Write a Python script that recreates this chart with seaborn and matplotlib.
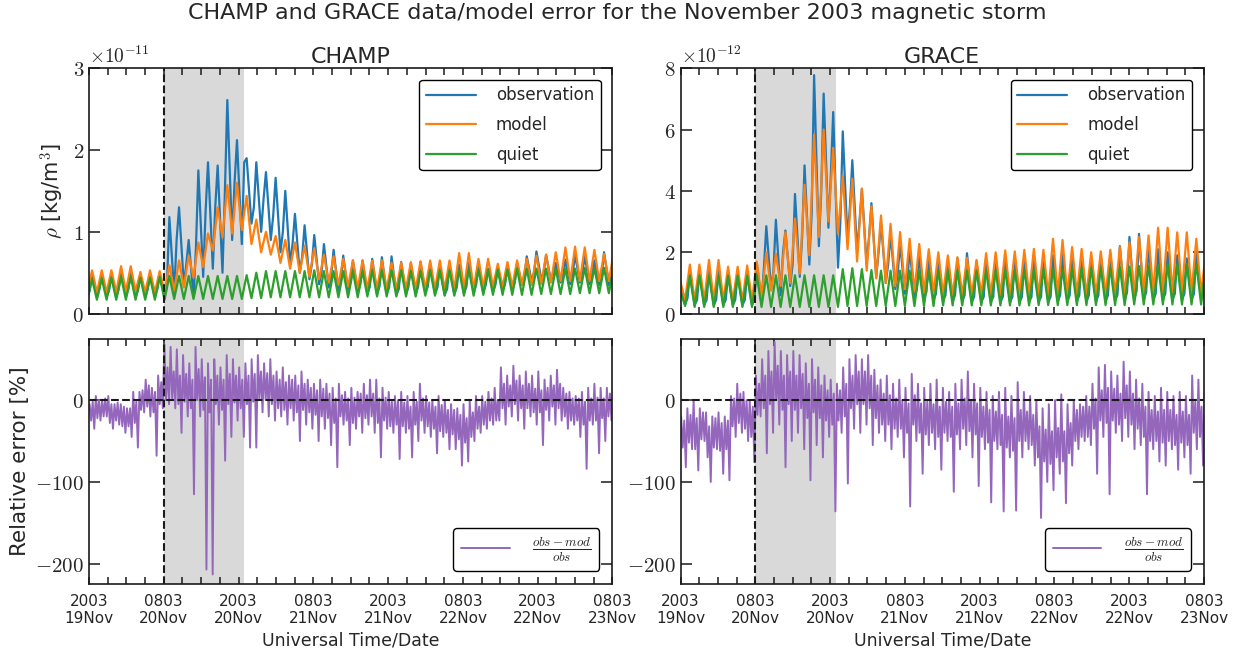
import numpy as np
import pandas as pd
import matplotlib
matplotlib.use('Agg')
import matplotlib.pyplot as plt
import matplotlib.dates as mdates
from matplotlib.ticker import FuncFormatter
import seaborn as sns

START = pd.Timestamp('2003-11-19 20:03')
END = pd.Timestamp('2003-11-23 08:03')
ONSET = pd.Timestamp('2003-11-20 08:03')
MAIN_END = pd.Timestamp('2003-11-20 21:00')

# ---- CHAMP density [1e-11 kg/m^3]: orbit peak, trough, and rebound before next peak ----
champ_obs_pk = [0.45, 0.48, 0.47, 0.47, 0.50, 0.50, 0.47, 0.48, 0.48,
                1.18, 1.30, 0.90, 1.75, 1.85, 1.81, 2.61, 2.12,
                1.90, 1.85, 1.73, 1.66, 1.50, 1.22, 1.08, 0.96, 0.85, 0.78,
                0.71, 0.65, 0.65, 0.67, 0.69, 0.70, 0.63, 0.61, 0.63, 0.60,
                0.58, 0.58, 0.60, 0.62, 0.58, 0.55, 0.55, 0.58, 0.62, 0.70,
                0.76, 0.72, 0.62, 0.66, 0.72, 0.70, 0.65, 0.75, 0.75]
champ_obs_tr = [0.20, 0.20, 0.21, 0.20, 0.22, 0.21, 0.20, 0.21, 0.20,
                0.25, 0.35, 0.20, 0.45, 0.55, 0.50, 0.90, 0.85,
                1.10, 1.00, 0.90, 0.75, 0.60, 0.50, 0.42, 0.36, 0.32, 0.28,
                0.26, 0.25, 0.24, 0.24, 0.24, 0.23, 0.24, 0.24, 0.25, 0.24,
                0.23, 0.24, 0.25, 0.25, 0.26, 0.27, 0.28, 0.30, 0.35, 0.40,
                0.42, 0.40, 0.38, 0.36, 0.38, 0.36, 0.35, 0.35, 0.35]
champ_obs_mid = [0.28, 0.30, 0.28, 0.30, 0.30, 0.28, 0.30, 0.30, 0.35,
                 0.90, 0.60, 0.80, 1.25, 1.30, 1.50, 1.60, 1.85,
                 1.30, 1.40, 1.20, 1.00, 0.85, 0.70, 0.60, 0.50, 0.45, 0.40,
                 0.38, 0.35, 0.33, 0.33, 0.32, 0.30, 0.33, 0.33, 0.33, 0.32,
                 0.30, 0.32, 0.33, 0.35, 0.35, 0.35, 0.36, 0.38, 0.45, 0.50,
                 0.50, 0.48, 0.46, 0.48, 0.50, 0.48, 0.46, 0.45, 0.45]
champ_mod_pk = [0.50, 0.53, 0.53, 0.53, 0.58, 0.58, 0.51, 0.53, 0.52,
                0.59, 0.65, 0.71, 0.87, 0.98, 1.30, 1.57, 1.60,
                1.44, 1.15, 1.00, 0.95, 0.90, 0.87, 0.83, 0.80, 0.72, 0.70,
                0.67, 0.65, 0.65, 0.65, 0.65, 0.62, 0.62, 0.63, 0.64, 0.65,
                0.65, 0.65, 0.74, 0.74, 0.67, 0.67, 0.61, 0.63, 0.65, 0.67,
                0.71, 0.72, 0.75, 0.81, 0.82, 0.81, 0.78, 0.73, 0.75]
champ_mod_tr = [0.26, 0.26, 0.26, 0.26, 0.27, 0.27, 0.26, 0.26, 0.27,
                0.28, 0.32, 0.44, 0.57, 0.77, 0.93, 0.98, 1.02,
                0.85, 0.75, 0.72, 0.62, 0.55, 0.50, 0.45, 0.42, 0.38, 0.35,
                0.33, 0.31, 0.30, 0.30, 0.30, 0.30, 0.30, 0.30, 0.30, 0.30,
                0.30, 0.30, 0.30, 0.30, 0.32, 0.33, 0.33, 0.33, 0.35, 0.35,
                0.36, 0.38, 0.40, 0.40, 0.40, 0.40, 0.40, 0.40, 0.40]
champ_qui_pk = [0.42, 0.42, 0.43, 0.44, 0.45, 0.45, 0.44, 0.44, 0.45,
                0.46, 0.46, 0.46, 0.46, 0.46, 0.46, 0.46, 0.46,
                0.47, 0.50, 0.52, 0.52, 0.52, 0.52, 0.52, 0.53, 0.52, 0.52,
                0.52, 0.52, 0.52, 0.53, 0.53, 0.53, 0.53, 0.52, 0.52, 0.53,
                0.53, 0.53, 0.53, 0.54, 0.54, 0.54, 0.54, 0.54, 0.55, 0.55,
                0.55, 0.55, 0.55, 0.55, 0.55, 0.56, 0.56, 0.56, 0.56]
champ_qui_tr = [0.17, 0.17, 0.17, 0.17, 0.17, 0.17, 0.17, 0.17, 0.17,
                0.18, 0.18, 0.18, 0.18, 0.18, 0.18, 0.18, 0.18,
                0.19, 0.19, 0.20, 0.20, 0.20, 0.20, 0.20, 0.20, 0.20, 0.20,
                0.20, 0.20, 0.21, 0.21, 0.21, 0.21, 0.21, 0.21, 0.22, 0.22,
                0.22, 0.22, 0.22, 0.22, 0.23, 0.23, 0.23, 0.23, 0.23, 0.23,
                0.24, 0.24, 0.24, 0.24, 0.25, 0.25, 0.25, 0.25, 0.25]

# ---- GRACE density [1e-12 kg/m^3] ----
grace_obs_pk = [0.80, 1.30, 1.35, 1.40, 1.40, 1.30, 1.30, 1.30,
                1.65, 2.85, 3.06, 2.71, 3.90, 4.83, 7.77, 7.17, 6.57,
                5.94, 5.00, 4.07, 3.60, 3.00, 2.60, 2.30, 2.10, 1.90, 1.80,
                1.75, 1.70, 1.80, 1.97, 1.70, 1.80, 1.85, 1.90, 1.80, 1.85,
                1.90, 1.90, 1.90, 1.95, 2.00, 1.90, 1.85, 1.90, 1.95, 2.20,
                2.50, 2.60, 2.20, 2.10, 2.00, 1.90, 1.80, 2.00, 1.60]
grace_obs_tr = [0.30, 0.28, 0.28, 0.28, 0.28, 0.28, 0.28, 0.28,
                0.40, 0.80, 0.60, 0.90, 1.20, 1.60, 2.20, 2.80, 1.50,
                2.40, 2.00, 1.60, 1.20, 1.00, 0.80, 0.65, 0.55, 0.50, 0.45,
                0.42, 0.40, 0.40, 0.38, 0.38, 0.38, 0.38, 0.38, 0.38, 0.38,
                0.38, 0.38, 0.40, 0.40, 0.40, 0.40, 0.40, 0.40, 0.42, 0.42,
                0.45, 0.45, 0.45, 0.45, 0.45, 0.45, 0.45, 0.45, 0.45]
grace_obs_mid = [0.50, 0.45, 0.45, 0.45, 0.45, 0.45, 0.45, 0.45,
                 1.50, 1.40, 2.00, 1.60, 2.50, 3.30, 4.00, 4.50, 3.00,
                 3.50, 3.00, 2.50, 2.00, 1.60, 1.30, 1.00, 0.80, 0.70, 0.65,
                 0.60, 0.60, 0.60, 0.55, 0.55, 0.55, 0.55, 0.55, 0.55, 0.55,
                 0.55, 0.55, 0.60, 0.60, 0.60, 0.60, 0.60, 0.60, 0.62, 0.70,
                 0.75, 0.70, 0.65, 0.65, 0.65, 0.65, 0.65, 0.65, 0.60]
grace_mod_pk = [1.05, 1.60, 1.60, 1.75, 1.75, 1.53, 1.53, 1.57,
                1.70, 2.00, 1.95, 2.65, 3.10, 4.20, 5.84, 6.00, 5.40,
                4.50, 4.40, 4.07, 3.50, 3.20, 2.93, 2.66, 2.44, 2.27, 2.10,
                2.00, 1.90, 1.84, 1.82, 1.75, 1.97, 2.00, 2.06, 2.03, 2.08,
                2.11, 2.08, 2.44, 2.40, 2.17, 2.11, 2.00, 2.03, 2.08, 2.17,
                2.33, 2.50, 2.55, 2.80, 2.80, 2.65, 2.65, 2.44, 2.00]
grace_mod_tr = [0.45, 0.42, 0.42, 0.42, 0.42, 0.42, 0.42, 0.42,
                0.50, 0.75, 0.90, 1.00, 1.30, 1.90, 2.50, 3.00, 2.60,
                2.10, 1.70, 1.40, 1.15, 1.00, 0.90, 0.80, 0.72, 0.68, 0.65,
                0.62, 0.60, 0.60, 0.60, 0.60, 0.60, 0.60, 0.60, 0.60, 0.60,
                0.60, 0.60, 0.62, 0.62, 0.62, 0.60, 0.60, 0.60, 0.62, 0.62,
                0.64, 0.66, 0.68, 0.70, 0.70, 0.70, 0.68, 0.66, 0.65]
grace_qui_pk = [0.75, 1.24, 1.24, 1.24, 1.24, 1.24, 1.24, 1.24,
                1.25, 1.25, 1.25, 1.25, 1.25, 1.25, 1.25, 1.25, 1.25,
                1.45, 1.48, 1.45, 1.42, 1.40, 1.40, 1.40, 1.40, 1.40, 1.40,
                1.40, 1.40, 1.40, 1.40, 1.40, 1.40, 1.40, 1.42, 1.42, 1.42,
                1.43, 1.44, 1.45, 1.45, 1.46, 1.47, 1.48, 1.50, 1.50, 1.52,
                1.53, 1.55, 1.56, 1.58, 1.60, 1.60, 1.62, 1.62, 1.62]
grace_qui_tr = [0.25, 0.22, 0.22, 0.22, 0.22, 0.22, 0.22, 0.22,
                0.22, 0.22, 0.22, 0.22, 0.22, 0.22, 0.22, 0.22, 0.22,
                0.25, 0.25, 0.25, 0.25, 0.25, 0.25, 0.25, 0.25, 0.25, 0.25,
                0.27, 0.27, 0.27, 0.27, 0.27, 0.27, 0.27, 0.27, 0.27, 0.27,
                0.28, 0.28, 0.28, 0.28, 0.28, 0.28, 0.28, 0.28, 0.28, 0.28,
                0.30, 0.30, 0.30, 0.30, 0.30, 0.30, 0.30, 0.30, 0.32]

# ---- relative error [%], per hour: upper spike, core band low/high, lower spike ----
champ_err_hi = [-5, 5, 0, 5, -5, -5, -10, 10, 10, 25, 15, 30,
                68, 65, 62, 55, 45, 65, 50, 45, 50, 40, 55, 50,
                40, 45, 50, 55, 45, 50, 35, 40, 30, 30, 35, 25,
                20, 25, 20, 15, 20, 10, 15, 10, 20, 25, 25, 15,
                10, 5, 10, 5, 10, 20, 5, 0, 5, 0, -5, -10,
                -5, 0, 5, 5, 10, 15, 40, 30, 42, 30, 35, 30,
                35, 25, 30, 37, 15, 10, 5, 10, 15, 20, 15, 15, 10]
champ_core_hi = [-2, 0, 2, -5, -3, -8, -10, -2, 12, 18, 10, 22,
                 40, 35, 30, 32, 25, 38, 28, 25, 30, 25, 32, 30, 25,
                 30, 32, 35, 33, 30, 25, 22, 25, 18, 20, 15, 12, 14,
                 8, 2, 6, 2, 3, 8, 6, 8, 2, 3, -2, 0, -3,
                 -8, -2, 2, -3, -8, -6, -12, -12, -18, -22, -15, -8, -2, 2, 0,
                 20, 18, 24, 18, 20, 14, 12, 15, 18, 20, 8, 2,
                 2, -2, 2, 3, 2, 8, 6]
champ_core_lo = [-25, -22, -20, -28, -25, -32, -32, -28, -12, -8, -15, -5,
                 0, 2, -5, -2, -10, 0, -12, -15, -5, -12, -5, -3, -10,
                 -5, -2, 2, 0, -5, -10, -12, -10, -15, -12, -15, -18, -20,
                 -22, -28, -20, -25, -28, -20, -22, -20, -28, -25, -32, -30, -32,
                 -35, -30, -25, -32, -35, -38, -40, -42, -48, -52, -45, -35, -30, -25, -25,
                 -10, -8, -5, -10, -10, -15, -15, -12, -8, -10, -20, -25,
                 -25, -30, -25, -25, -22, -20, -18]
champ_err_lo = [-35, -25, -20, -35, -30, -40, -45, -58, -15, -20, -68, -10,
                -5, -10, -40, -20, -115, -20, -207, -213, -30, -74, -45, -25,
                -45, -58, -58, -15, -20, -25, -20, -30, -25, -50, -30, -35,
                -50, -35, -55, -82, -30, -55, -35, -40, -30, -40, -70, -35,
                -40, -72, -40, -70, -50, -40, -45, -65, -45, -60, -60, -80,
                -75, -50, -40, -35, -30, -25, -30, -20, -25, -35, -20, -30,
                -55, -25, -30, -25, -35, -30, -45, -84, -30, -65, -50, -25, -20]
grace_err_hi = [-20, -10, 0, -10, -15, -20, -15, -20, 5, 20, 10, 0,
                30, 50, 60, 71, 60, 55, 60, 55, 45, 50, 40, 30,
                25, 20, 40, 50, 55, 50, 55, 37, 25, 30, 20, 25,
                15, 32, 20, 15, 20, 25, 15, 10, 20, 25, 35, 20,
                15, 10, 5, 10, 15, 5, 22, 10, 5, 0, -10, -5,
                0, 7, -5, 0, -5, 5, 20, 40, 43, 35, 30, 47,
                35, 25, 20, 10, 5, 15, 10, 5, 10, 5, 30, 25, 10]
grace_core_hi = [-25, -18, -22, -15, -32, -22, -28, -25, 2, 8, 0, -8,
                 20, 30, 35, 42, 30, 35, 30, 32, 20, 25, 18, 12, 8,
                 12, 20, 30, 35, 35, 30, 18, 8, 6, 2, 0, -4, 6,
                 -4, -2, -5, -8, -2, -8, -4, 2, 0, -4, -8, -12, -14,
                 -18, -20, -22, -12, -14, -18, -32, -36, -38, -34, -38, -28, -12, -8, -8,
                 2, 12, 15, 14, 8, 18, 8, 2, -8, -12, -14, -12,
                 -12, -18, -14, -18, -2, -8, -4]
grace_core_lo = [-58, -52, -60, -48, -70, -58, -62, -60, -32, -28, -35, -45,
                 -18, -10, -5, 0, -12, -5, -12, -10, -22, -15, -22, -25, -30,
                 -25, -20, -10, -5, -5, -10, -22, -30, -30, -35, -35, -40, -30,
                 -40, -42, -40, -45, -40, -45, -42, -35, -38, -42, -45, -52, -50,
                 -55, -58, -62, -50, -50, -55, -70, -75, -78, -70, -75, -65, -50, -45, -45,
                 -35, -25, -28, -25, -30, -22, -30, -35, -45, -50, -50, -52,
                 -50, -55, -52, -55, -40, -45, -40]
grace_err_lo = [-82, -60, -86, -50, -100, -60, -90, -98, -45, -40, -50, -76,
                -20, -65, -40, -30, -82, -50, -40, -60, -98, -55, -70, -45,
                -136, -40, -102, -35, -40, -30, -55, -40, -50, -60, -45, -70,
                -130, -50, -90, -55, -60, -85, -50, -112, -60, -55, -70, -105,
                -60, -125, -60, -136, -70, -135, -70, -60, -80, -144, -100, -110,
                -90, -126, -80, -60, -50, -55, -90, -45, -115, -40, -50, -45,
                -60, -55, -115, -60, -75, -80, -60, -85, -70, -90, -60, -80, -50]

SERIES = ['observation', 'model', 'quiet']
COLORS = {'observation': '#1f77b4', 'model': '#ff7f0e', 'quiet': '#2ca02c'}
ERR_COLOR = '#9467bd'


def long_frame(parts, col):
    # parts: list of (times, values) pieces of one series
    t = np.concatenate([p[0].values for p in parts])
    v = np.concatenate([np.asarray(p[1], dtype=float) for p in parts])
    return pd.DataFrame({'time': t, col: v}).sort_values('time')


def orbit_times(first_peak, period_s):
    pk = pd.date_range(first_peak, periods=56, freq=f'{period_s}s')
    return pk, pk + pd.Timedelta(seconds=period_s // 2), pk + pd.Timedelta(seconds=3 * period_s // 4)


c_pk, c_tr, c_mid = orbit_times('2003-11-19 19:00', 93 * 60)
g_pk, g_tr, g_mid = orbit_times('2003-11-19 20:01', 92 * 60)

champ = {
    'observation': long_frame([(c_pk, champ_obs_pk), (c_tr, champ_obs_tr), (c_mid, champ_obs_mid)], 'rho'),
    'model': long_frame([(c_pk, champ_mod_pk), (c_tr, champ_mod_tr)], 'rho'),
    'quiet': long_frame([(c_pk, champ_qui_pk), (c_tr, champ_qui_tr)], 'rho'),
}
grace = {
    'observation': long_frame([(g_pk, grace_obs_pk), (g_tr, grace_obs_tr), (g_mid, grace_obs_mid)], 'rho'),
    'model': long_frame([(g_pk, grace_mod_pk), (g_tr, grace_mod_tr)], 'rho'),
    'quiet': long_frame([(g_pk, grace_qui_pk), (g_tr, grace_qui_tr)], 'rho'),
}


def hourly(minute):
    return pd.date_range(START + pd.Timedelta(minutes=minute), periods=85, freq='h')


def error_series(hi, core_lo, core_hi, lo):
    return long_frame([(hourly(6), hi), (hourly(21), core_lo),
                       (hourly(36), core_hi), (hourly(51), lo)], 'err')


champ_err = error_series(champ_err_hi, champ_core_lo, champ_core_hi, champ_err_lo)
grace_err = error_series(grace_err_hi, grace_core_lo, grace_core_hi, grace_err_lo)

sns.set_theme(style='ticks')
plt.rcParams['font.family'] = ['DejaVu Sans']
plt.rcParams['mathtext.fontset'] = 'cm'

fig, axes = plt.subplots(2, 2, figsize=(12.34, 6.55), dpi=100, sharex=True)
fig.subplots_adjust(left=0.0721, right=0.9757, top=0.896, bottom=0.108,
                    wspace=0.130, hspace=0.102)

panels = [('CHAMP', champ, champ_err, 1e-11, 3, 1, r'$\times10^{-11}$'),
          ('GRACE', grace, grace_err, 1e-12, 8, 2, r'$\times10^{-12}$')]

major = pd.date_range(START, END, freq='12h')
minor = pd.date_range(START, END, freq='3h')

for col, (name, dens, err, scale, ymax, ystep, offset) in enumerate(panels):
    ax, axe = axes[0, col], axes[1, col]
    for a in (ax, axe):
        a.axvspan(ONSET, MAIN_END, color='#d9d9d9', lw=0, zorder=0)
        a.axvline(ONSET, color='k', ls='--', lw=1.5, zorder=3)

    for s in SERIES:
        sub = dens[s]
        sns.lineplot(x=sub['time'], y=sub['rho'] * scale, ax=ax, color=COLORS[s],
                     lw=1.6, label=s, estimator=None, sort=True)
    ax.set_ylim(0, ymax * scale)
    ax.set_yticks(np.arange(0, ymax + 1, ystep) * scale)
    ax.yaxis.set_major_formatter(FuncFormatter(lambda v, p, s=scale: f'${v / s:g}$'))
    ax.text(0.0, 1.005, offset, transform=ax.transAxes, ha='left', va='bottom',
            fontsize=14)
    ax.set_title(name, fontsize=16, pad=4)
    ax.set_xlabel('')
    ax.set_ylabel(r'$\rho$ [kg/m$^3$]' if col == 0 else '', fontsize=15)
    ax.legend(loc='upper right', fontsize=12, frameon=True, fancybox=True,
              edgecolor='black', framealpha=1, handlelength=3.0,
              handletextpad=1.2, labelspacing=0.7, borderaxespad=0.7)

    sns.lineplot(x=err['time'], y=err['err'], ax=axe, color=ERR_COLOR, lw=1.4,
                 label=r'$\frac{obs-mod}{obs}$', estimator=None, sort=True)
    axe.axhline(0, color='k', ls='--', lw=1.5, zorder=3)
    axe.set_ylim(-225, 75)
    axe.set_yticks([0, -100, -200])
    axe.yaxis.set_major_formatter(FuncFormatter(lambda v, p: f'${v:g}$'))
    axe.set_xlabel('Universal Time/Date', fontsize=12.5)
    axe.set_ylabel('Relative error [%]' if col == 0 else '', fontsize=15.5)
    axe.legend(loc='lower right', fontsize=13.5, frameon=True, fancybox=True,
               edgecolor='black', framealpha=1, handlelength=2.6,
               handletextpad=1.2, borderaxespad=0.7)

    for a in (ax, axe):
        a.set_xlim(START, END)
        a.set_xticks(major)
        a.set_xticks(minor, minor=True)
        a.xaxis.set_major_formatter(mdates.DateFormatter('%H%M\n%d%b'))
        a.tick_params(axis='x', which='both', direction='in', top=True,
                      bottom=True, length=5, width=1.1, labelsize=11, pad=7,
                      color='k')
        a.tick_params(axis='y', which='both', direction='in', left=True,
                      right=True, length=8, width=1.1, labelsize=15, color='k')
        for sp in a.spines.values():
            sp.set_color('k')
            sp.set_linewidth(1.2)

fig.suptitle('CHAMP and GRACE data/model error for the November 2003 magnetic storm',
             fontsize=16, y=0.995, va='top')

fig.savefig('out.png', dpi=100)
